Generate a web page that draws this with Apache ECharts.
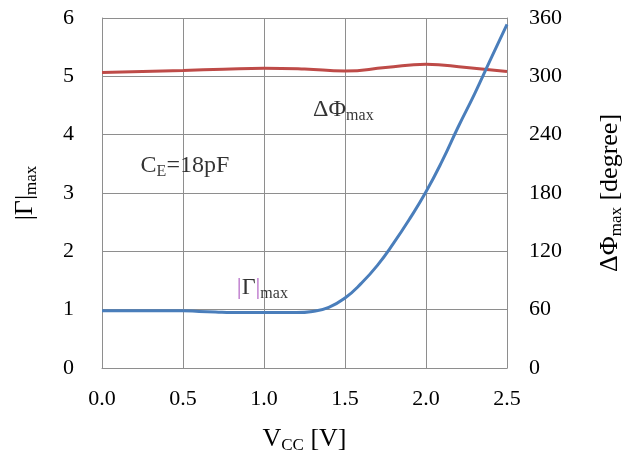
<!DOCTYPE html>
<html>
<head>
<meta charset="utf-8">
<script src="https://cdn.jsdelivr.net/npm/echarts@6/dist/echarts.min.js"></script>
<style>
html,body{margin:0;padding:0;background:#fff;}
#chart{width:623px;height:459px;}
</style>
</head>
<body>
<div id="chart"></div>
<script>
// X values (Vcc in volts) and readings
var gammaVcc = [0.0, 0.1, 0.2, 0.3, 0.4, 0.5, 0.6, 0.7, 0.8, 0.9, 1.0, 1.1, 1.2, 1.3, 1.4, 1.5, 1.6, 1.7, 1.8, 1.9, 2.0, 2.1, 2.2, 2.3, 2.4, 2.5];
var gammaMax = [0.98, 0.98, 0.98, 0.98, 0.98, 0.98, 0.97, 0.96, 0.95, 0.95, 0.95, 0.95, 0.95, 0.97, 1.04, 1.2, 1.45, 1.76, 2.14, 2.56, 3.02, 3.55, 4.14, 4.7, 5.3, 5.89];
var phiVcc = [0.0, 0.25, 0.5, 0.75, 1.0, 1.25, 1.5, 1.75, 2.0, 2.25, 2.5];
var phiMax = [304, 305, 306, 307.3, 308.3, 307.5, 305.5, 309, 312.5, 309, 305];
var xTicks = [0, 0.5, 1.0, 1.5, 2.0, 2.5];
var leftTicks = [0, 1, 2, 3, 4, 5, 6];
var rightTicks = [0, 60, 120, 180, 240, 300, 360];
// annotation anchors in data units (Vcc, left-axis value)
var noteCE = [0.512, 3.46];
var notePhi = [1.49, 4.42];
var noteGamma = [0.99, 1.38];

var FONT = '"Liberation Serif", "DejaVu Serif", serif';
var gridColor = '#8e8e8e';

function pairs(xs, ys) { return xs.map(function (x, i) { return [x, ys[i]]; }); }

var titleRich = {
  v: { fontFamily: FONT, fontSize: 26, color: '#000', lineHeight: 30 },
  s: { fontFamily: FONT, fontSize: 17, color: '#000', verticalAlign: 'bottom', padding: [9, 0, 0, 0] }
};

var chart = echarts.init(document.getElementById('chart'));
chart.setOption({
  backgroundColor: '#fff',
  animation: false,
  grid: { left: 102, right: 116, top: 18, bottom: 91, containLabel: false, outerBoundsMode: 'none' },
  xAxis: {
    type: 'value', min: 0, max: 2.5, interval: 0.5,
    name: '{v|V}{s|CC}{v| [V]}', nameLocation: 'middle', nameGap: 56,
    nameTextStyle: { rich: titleRich },
    axisLine: { show: true, lineStyle: { color: gridColor, width: 1 } },
    axisTick: { show: false },
    splitLine: { show: true, lineStyle: { color: gridColor, width: 1 } },
    axisLabel: { fontFamily: FONT, fontSize: 22, color: '#000', margin: 20,
      formatter: function (v) { return v.toFixed(1); } }
  },
  yAxis: [{
    type: 'value', min: 0, max: 6, interval: 1, position: 'left',
    name: '{v||Γ|}{s|max}', nameLocation: 'middle', nameGap: 62,
    nameTextStyle: { rich: titleRich },
    axisLine: { show: true, lineStyle: { color: gridColor, width: 1 } },
    axisTick: { show: false },
    splitLine: { show: true, lineStyle: { color: gridColor, width: 1 } },
    axisLabel: { fontFamily: FONT, fontSize: 22, color: '#000', margin: 28 }
  }, {
    type: 'value', min: 0, max: 360, interval: 60, position: 'right',
    name: '{v|ΔΦ}{s|max}{v| [degree]}', nameLocation: 'middle', nameGap: 88,
    nameTextStyle: { rich: titleRich },
    axisLine: { show: true, lineStyle: { color: gridColor, width: 1 } },
    axisTick: { show: false },
    splitLine: { show: false },
    axisLabel: { fontFamily: FONT, fontSize: 22, color: '#000', margin: 22 }
  }],
  series: [{
    name: 'phi', type: 'line', yAxisIndex: 1, smooth: 0.5, showSymbol: false,
    data: pairs(phiVcc, phiMax),
    lineStyle: { color: '#be4b48', width: 3 }, itemStyle: { color: '#be4b48' }, z: 3
  }, {
    name: 'gamma', type: 'line', yAxisIndex: 0, smooth: 0.5, showSymbol: false,
    data: pairs(gammaVcc, gammaMax),
    lineStyle: { color: '#4a7ebb', width: 3 }, itemStyle: { color: '#4a7ebb' }, z: 4
  }, {
    name: 'notes', type: 'scatter', yAxisIndex: 0, symbolSize: 0, silent: true,
    data: [
      { value: noteCE, label: { formatter: '{v|C}{s|E}{v|=18pF}' } },
      { value: notePhi, label: { formatter: '{v|ΔΦ}{s|max}' } },
      { value: noteGamma, label: { formatter: '{p||}{v|Γ}{p||}{s|max}' } }
    ],
    label: { show: true, position: 'inside', color: '#000',
      rich: {
        v: { fontFamily: FONT, fontSize: 24, color: '#000', lineHeight: 28 },
        p: { fontFamily: FONT, fontSize: 24, color: '#a040b8', lineHeight: 28 },
        s: { fontFamily: FONT, fontSize: 16, color: '#000', verticalAlign: 'bottom', padding: [9, 0, 0, 0] }
      } }
  }]
});
</script>
</body>
</html>
